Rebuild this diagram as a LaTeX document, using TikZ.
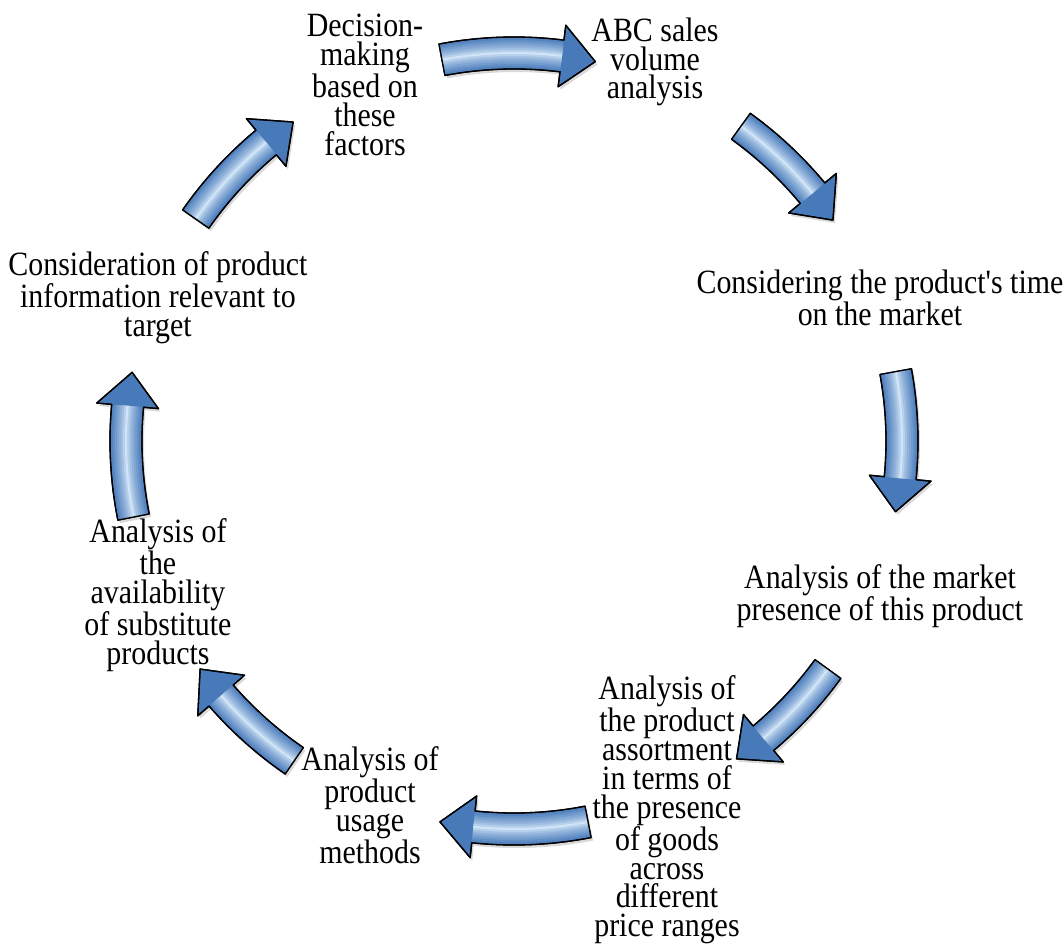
\documentclass[tikz,border=0pt]{standalone}
\usepackage{fontspec}
\setmainfont{Liberation Serif}[FakeStretch=0.88,Ligatures=TeXOff]
\definecolor{arrowblue}{RGB}{72,122,186}
\definecolor{arrowglow}{RGB}{222,238,252}
\tikzset{steptext/.style={align=center,inner sep=0pt,font=\fontsize{34}{28.8}\selectfont},
         arrowbody/.style={fill=arrowblue,draw=black,line width=1.3pt,line join=round},
         arrowshadow/.style={fill=black,opacity=0.15}}

% one block arrow of the cycle, from angle #1 (tail) clockwise to angle #2 (tip)
\newcommand{\arrowpath}[2]{({#1}:404pt) arc[start angle={#1},end angle={#2+5},radius=404pt]
  -- ({#2+5}:419pt) -- ({#2}:388pt) -- ({#2+5}:357pt) -- ({#2+5}:372pt)
  arc[start angle={#2+5},end angle={#1},radius=372pt] -- cycle}
\newcommand{\cyclearrow}[2]{%
  \path[arrowshadow,shift={(2,-3)}] \arrowpath{#1}{#2};
  \path[arrowbody] \arrowpath{#1}{#2};
  \foreach \w/\c in {30/8,26/18,22/28,18/38,14/48,10/60,6/74,2/92}
    \draw[arrowglow!\c!arrowblue,line width=\w pt] ({#1}:388pt) arc[start angle={#1},end angle={#2+5},radius=388pt];
  \path[draw=black,line width=1.3pt,line join=round] \arrowpath{#1}{#2};}

\begin{document}
\begin{tikzpicture}[x=1pt,y=1pt]
  \useasboundingbox (-514,-503) rectangle (549,441);
  % the eight arrows, clockwise
  \cyclearrow{100.7}{77.9}
  \cyclearrow{54.2}{34.7}
  \cyclearrow{10.3}{-10.5}
  \cyclearrow{-36}{-55}
  \cyclearrow{-79}{-101}
  \cyclearrow{-124.5}{-144}
  \cyclearrow{191.3}{169.8}
  \cyclearrow{145.1}{124.7}
  % the steps
  \node[steptext] (decide) at (-149,356) {Decision-\\making\\based on\\these\\factors};
  \node[steptext] (abc) at (141,379) {ABC sales\\volume\\analysis};
  \node[steptext] (timeonmkt) at (366,143) {Considering the product's time\\on the market};
  \node[steptext] (presence) at (366,-155) {Analysis of the market\\presence of this product};
  \node[steptext] (assort) at (153,-369) {Analysis of\\the product\\assortment\\in terms of\\the presence\\of goods\\across\\different\\price ranges};
  \node[steptext] (usage) at (-144,-364) {Analysis of\\product\\usage\\methods};
  \node[steptext] (subst) at (-356,-154) {Analysis of\\the\\availability\\of substitute\\products};
  \node[steptext] (targetinfo) at (-356,143) {Consideration of product\\information relevant to\\target};
\end{tikzpicture}
\end{document}
